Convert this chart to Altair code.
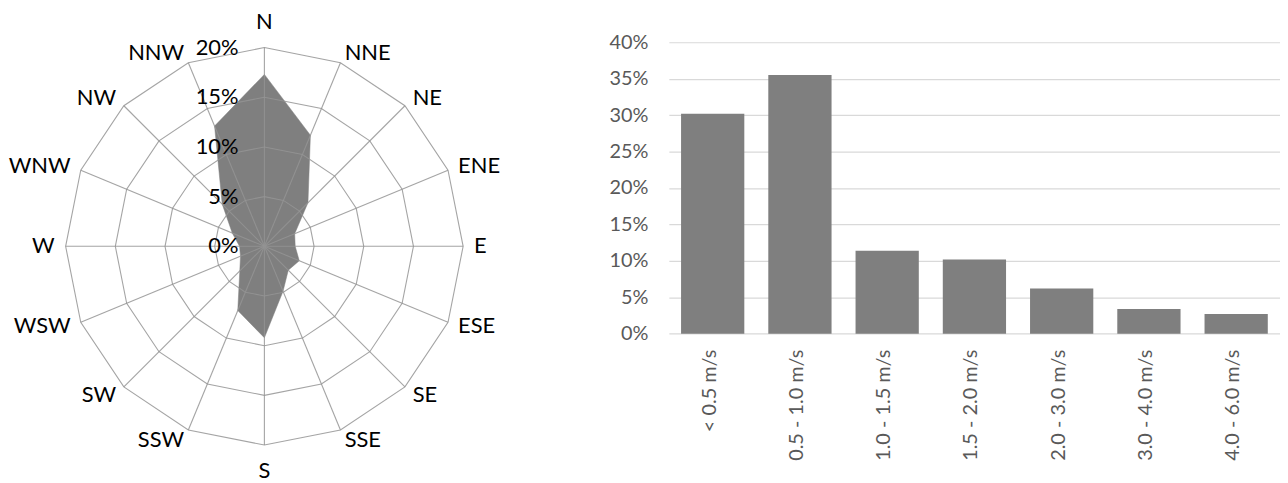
import altair as alt
import pandas as pd

# ---------------- data ----------------
directions = ["N", "NNE", "NE", "ENE", "E", "ESE", "SE", "SSE",
              "S", "SSW", "SW", "WSW", "W", "WNW", "NW", "NNW"]
dir_freq = [17.3, 12.1, 6.2, 3.3, 3.1, 3.8, 3.4, 4.9,
            9.2, 7.0, 3.5, 2.6, 2.5, 3.5, 6.0, 13.1]
ring_levels = [5, 10, 15, 20]
ring_tick_levels = [0, 5, 10, 15, 20]
ring_tick_labels = ["0%", "5%", "10%", "15%", "20%"]

speed_bins = ["< 0.5 m/s", "0.5 - 1.0 m/s", "1.0 - 1.5 m/s", "1.5 - 2.0 m/s",
              "2.0 - 3.0 m/s", "3.0 - 4.0 m/s", "4.0 - 6.0 m/s"]
speed_pct = [30.2, 35.5, 11.4, 10.2, 6.2, 3.4, 2.7]
bar_ticks = [0, 0.05, 0.10, 0.15, 0.20, 0.25, 0.30, 0.35, 0.40]

FONT = "Lato"
GREY = "#7f7f7f"
RFS = 22   # radar text size
BFS = 20   # bar chart text size

n = len(directions)
poly_df = pd.DataFrame({"idx": list(range(n)) + [n],
                        "value": dir_freq + [dir_freq[0]]})
ring_df = pd.DataFrame([{"level": L, "idx": i}
                        for L in ring_levels for i in range(n + 1)])
spoke_df = pd.DataFrame({"idx": list(range(n)),
                         "outer": [ring_levels[-1]] * n})
label_df = pd.DataFrame({"idx": list(range(n)), "dir": directions})
tick_df = pd.DataFrame({"level": ring_tick_levels, "label": ring_tick_labels})
bar_df = pd.DataFrame({"bin": speed_bins, "pct": [p / 100 for p in speed_pct]})

# ---------------- radar ----------------
XS = alt.Scale(domain=[-25.6, 24.4], nice=False, zero=False)
YS = alt.Scale(domain=[-22.87, 23.83], nice=False, zero=False)
ANG = "datum.idx * PI / 8"


def xenc(f):
    return alt.X(f, type="quantitative", scale=XS, axis=None)


def yenc(f):
    return alt.Y(f, type="quantitative", scale=YS, axis=None)


poly = alt.Chart(poly_df).transform_calculate(
    px=f"datum.value * sin({ANG})", py=f"datum.value * cos({ANG})"
).mark_line(fill=GREY, stroke=GREY, strokeWidth=0.5).encode(
    x=xenc("px"), y=yenc("py"), order=alt.Order("idx:Q")
)

rings = alt.Chart(ring_df).transform_calculate(
    px=f"datum.level * sin({ANG})", py=f"datum.level * cos({ANG})"
).mark_line(stroke="#949494", strokeWidth=1.1, opacity=0.85).encode(
    x=xenc("px"), y=yenc("py"), detail="level:N", order=alt.Order("idx:Q")
)

spokes = alt.Chart(spoke_df).transform_calculate(
    ox="0", oy="0",
    px=f"datum.outer * sin({ANG})", py=f"datum.outer * cos({ANG})"
).mark_rule(stroke="#949494", strokeWidth=1.1, opacity=0.85).encode(
    x=xenc("ox"), y=yenc("oy"), x2="px:Q", y2="py:Q"
)

ticks = alt.Chart(tick_df).transform_calculate(zx="0").mark_text(
    align="right", baseline="middle", dx=-26, fontSize=RFS, font=FONT, color="black"
).encode(x=xenc("zx"), y=yenc("level"), text="label:N")

lab_base = alt.Chart(label_df).transform_calculate(
    ux=f"sin({ANG})", uy=f"cos({ANG})"
).transform_calculate(
    rr="abs(datum.ux) < 0.1 ? 22.6 : 21.1"
).transform_calculate(
    px="datum.rr * datum.ux", py="datum.rr * datum.uy"
)
lab_right = lab_base.transform_filter("datum.ux > 0.1").mark_text(
    align="left", baseline="middle", fontSize=RFS, font=FONT, color="black"
).encode(x=xenc("px"), y=yenc("py"), text="dir:N")
lab_left = lab_base.transform_filter("datum.ux < -0.1").mark_text(
    align="right", baseline="middle", fontSize=RFS, font=FONT, color="black"
).encode(x=xenc("px"), y=yenc("py"), text="dir:N")
lab_mid = lab_base.transform_filter("abs(datum.ux) <= 0.1").mark_text(
    align="center", baseline="middle", fontSize=RFS, font=FONT, color="black"
).encode(x=xenc("px"), y=yenc("py"), text="dir:N")

radar = alt.layer(poly, rings, spokes, ticks, lab_right, lab_left, lab_mid).properties(
    width=500, height=467
)

# ---------------- bars ----------------
BX = alt.X("bin:N", sort=speed_bins,
           scale=alt.Scale(paddingInner=0.275, paddingOuter=0.14), axis=None)
BYS = alt.Scale(domain=[-0.192, 0.445], nice=False, zero=False)

bars = alt.Chart(bar_df).mark_bar(color=GREY).encode(
    x=BX,
    y=alt.Y("pct:Q", scale=BYS,
            axis=alt.Axis(values=bar_ticks, format=".0%", grid=True, domain=False,
                          ticks=False, labelPadding=21, labelFontSize=BFS,
                          labelFont=FONT, labelColor="#595959",
                          gridColor="#d9d9d9", gridWidth=1.2, title=None)),
    y2=alt.datum(0),
)

bar_labels = alt.Chart(bar_df).mark_text(
    angle=270, align="right", baseline="middle", dx=-16, dy=-3,
    fontSize=BFS, font=FONT, color="#595959"
).encode(x=BX, y=alt.datum(0, scale=BYS), text="bin:N")

barchart = alt.layer(bars, bar_labels).properties(width=615, height=467)

chart = alt.hconcat(radar, barchart, spacing=163, bounds="flush").properties(
    padding=0
).configure_view(stroke=None)

chart.save("out.html", embed_options={"renderer": "svg", "actions": False})
